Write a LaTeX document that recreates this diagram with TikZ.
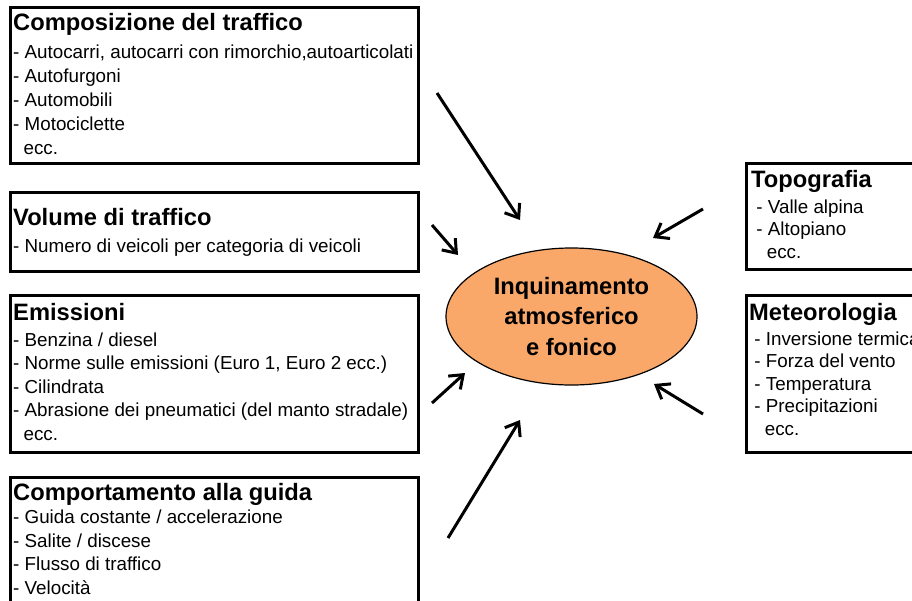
\documentclass[tikz,border=0pt]{standalone}
\usepackage{fontspec}
\setmainfont{Liberation Sans}
\usetikzlibrary{arrows.meta,shapes.geometric}
\definecolor{pollutionfill}{RGB}{250,168,106}
\tikzstyle{factor}=[
        draw,
        line width=3pt,
        anchor=north west,
        inner sep=0pt,
        outer sep=0pt
]
\tikzstyle{factortext}=[
        anchor=north west,
        inner sep=0pt,
        align=left,
        font=\fontsize{18.8}{23.5}\selectfont
]
\tikzstyle{effect}=[
        -{Straight Barb[length=12pt,width=18pt]},
        line width=3pt
]
\newcommand{\heading}[1]{{\fontsize{23.7}{26}\selectfont\bfseries #1}}

\begin{document}
\begin{tikzpicture}[x=1pt,y=-1pt]
                    \clip (0,0) rectangle (912,600);

                    % left boxes
                    \node[factor, minimum width=408, minimum height=156] (comp) at (10,7) {};
                    \node[factortext, font=\fontsize{18.8}{24}\selectfont] (comptext) at (13,12.7) {\heading{Composizione del traffico}\\[4pt]
                        - Autocarri, autocarri con rimorchio,autoarticolati\\
                        - Autofurgoni\\
                        - Automobili\\
                        - Motociclette\\
                        \ \ ecc.};

                    \node[factor, minimum width=408, minimum height=79] (vol) at (10,192) {};
                    \node[factortext] (voltext) at (13,208) {\heading{Volume di traffico}\\[3.5pt]
                        - Numero di veicoli per categoria di veicoli};

                    \node[factor, minimum width=408, minimum height=157] (emis) at (10,295) {};
                    \node[factortext] (emistext) at (13,303) {\heading{Emissioni}\\[2.5pt]
                        - Benzina / diesel\\
                        - Norme sulle emissioni (Euro 1, Euro 2 ecc.)\\
                        - Cilindrata\\
                        - Abrasione dei pneumatici (del manto stradale)\\
                        \ \ ecc.};

                    \node[factor, minimum width=408, minimum height=150] (guida) at (10,477) {};
                    \node[factortext] (guidatext) at (13,483) {\heading{Comportamento alla guida}\\[0pt]
                        - Guida costante / accelerazione\\
                        - Salite / discese\\
                        - Flusso di traffico\\
                        - Velocità};

                    % right boxes
                    \node[factor, minimum width=200, minimum height=106] (topo) at (746,163) {};
                    \node[factortext, font=\fontsize{18.8}{22.5}\selectfont] (topotext) at (751,170) {\heading{Topografia}\\[3.5pt]
                        \ - Valle alpina\\
                        \ - Altopiano\\
                        \ \ \ ecc.};

                    \node[factor, minimum width=200, minimum height=157] (meteo) at (746,295) {};
                    \node[factortext, font=\fontsize{18.8}{22.5}\selectfont] (meteotext) at (749,303) {\heading{Meteorologia}\\[2.5pt]
                        \ - Inversione termica\\
                        \ - Forza del vento\\
                        \ - Temperatura\\
                        \ - Precipitazioni\\
                        \ \ \ ecc.};

                    % centre
                    \node[ellipse, draw, line width=1.2pt, fill=pollutionfill,
                          minimum width=251, minimum height=137, inner sep=0pt, align=center,
                          font=\fontsize{23.7}{30.5}\selectfont\bfseries] (pollution) at (571.5,316.5)
                          {Inquinamento\\atmosferico\\e fonico};

                    % arrows
                    \coordinate (comp-out) at (437,93);
                    \coordinate (comp-in) at (520,220);
                    \coordinate (vol-out) at (432,225);
                    \coordinate (vol-in) at (458,255);
                    \coordinate (emis-out) at (432,403);
                    \coordinate (emis-in) at (465,373);
                    \coordinate (guida-out) at (448,538);
                    \coordinate (guida-in) at (520,420);
                    \coordinate (topo-out) at (703,209);
                    \coordinate (topo-in) at (653,238);
                    \coordinate (meteo-out) at (703,414);
                    \coordinate (meteo-in) at (654,384);

                    \foreach \i in {comp,vol,emis,guida,topo,meteo} {
                        \draw[effect] (\i-out) -- (\i-in);
                    }
                \end{tikzpicture}
\end{document}
